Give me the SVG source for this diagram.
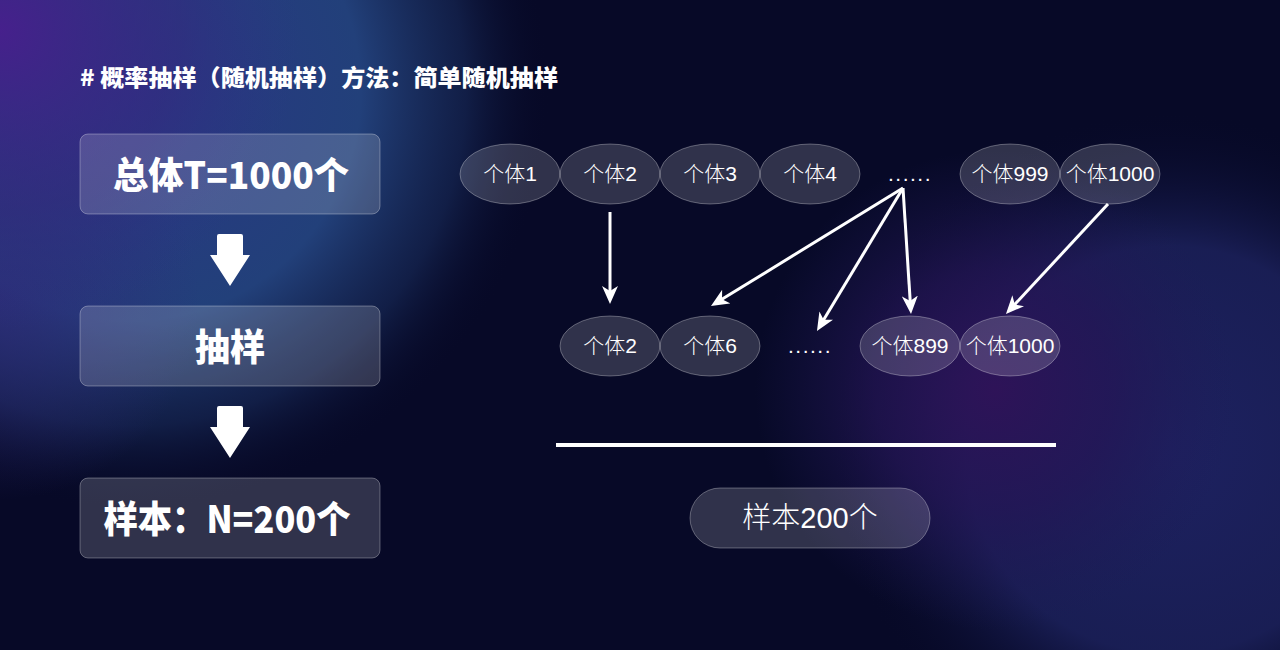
<svg xmlns="http://www.w3.org/2000/svg" width="1280" height="650" viewBox="0 0 1280 650">
  <defs>
    <radialGradient id="gLeft" gradientUnits="userSpaceOnUse" cx="130" cy="90" r="420">
      <stop offset="0" stop-color="#2a3584"/>
      <stop offset="0.55" stop-color="#22407a"/>
      <stop offset="0.8" stop-color="#1c3366" stop-opacity="0.5"/>
      <stop offset="1" stop-color="#070927" stop-opacity="0"/>
    </radialGradient>
    <radialGradient id="gPurpleTL" gradientUnits="userSpaceOnUse" cx="0" cy="30" r="300">
      <stop offset="0" stop-color="#46208c"/>
      <stop offset="0.6" stop-color="#35287f" stop-opacity="0.5"/>
      <stop offset="1" stop-color="#2a3584" stop-opacity="0"/>
    </radialGradient>
    <radialGradient id="gPurpleLeft" gradientUnits="userSpaceOnUse" cx="0" cy="300" r="200">
      <stop offset="0" stop-color="#2e2a78" stop-opacity="0.8"/>
      <stop offset="1" stop-color="#2e2a78" stop-opacity="0"/>
    </radialGradient>
    <radialGradient id="gPurpleR" gradientUnits="userSpaceOnUse" cx="995" cy="390" r="240">
      <stop offset="0" stop-color="#2e1358"/>
      <stop offset="0.5" stop-color="#251556" stop-opacity="0.7"/>
      <stop offset="1" stop-color="#1e1a55" stop-opacity="0"/>
    </radialGradient>
    <radialGradient id="gBlueR" gradientUnits="userSpaceOnUse" cx="1170" cy="450" r="340">
      <stop offset="0" stop-color="#1d2160"/>
      <stop offset="0.6" stop-color="#1b2059" stop-opacity="0.9"/>
      <stop offset="1" stop-color="#070927" stop-opacity="0"/>
    </radialGradient>
    <marker id="arrow" markerUnits="userSpaceOnUse" markerWidth="18" markerHeight="16" viewBox="0 0 18 16" refX="10" refY="8" orient="auto">
      <path d="M0,0 L18,8 L0,16 L5,8 z" fill="#ffffff"/>
    </marker>
  </defs>
  <style>
    .box { fill: rgba(255,255,255,0.17); stroke: rgba(255,255,255,0.3); stroke-width: 1; }
    .ell { fill: rgba(255,255,255,0.17); stroke: rgba(255,255,255,0.3); stroke-width: 1; }
    .big { font-family: "Noto Sans CJK SC", "Noto Sans", sans-serif; font-weight: 900; fill: #ffffff; text-anchor: middle; }
    .lbl { font-family: "Liberation Sans", "Noto Sans CJK SC", sans-serif; font-weight: 300; font-size: 21px; fill: #ffffff; text-anchor: middle; }
    .pill { font-family: "Liberation Sans", "Noto Sans CJK SC", sans-serif; font-weight: 300; font-size: 29px; fill: #ffffff; text-anchor: middle; }
    .conn { stroke: #ffffff; stroke-width: 3; fill: none; marker-end: url(#arrow); }
    .blk { fill: #ffffff; }
  </style>

  <!-- background -->
  <rect x="0" y="0" width="1280" height="650" fill="#070927"/>
  <rect x="0" y="0" width="1280" height="650" fill="url(#gBlueR)"/>
  <rect x="0" y="0" width="1280" height="650" fill="url(#gPurpleR)"/>
  <rect x="0" y="0" width="1280" height="650" fill="url(#gLeft)"/>
  <rect x="0" y="0" width="1280" height="650" fill="url(#gPurpleLeft)"/>
  <rect x="0" y="0" width="1280" height="650" fill="url(#gPurpleTL)"/>

  <!-- title -->
  <text x="80" y="86" font-family="Noto Sans CJK SC, Noto Sans, sans-serif" font-weight="900" font-size="23" fill="#ffffff" textLength="478" lengthAdjust="spacingAndGlyphs"># 概率抽样（随机抽样）方法：简单随机抽样</text>

  <!-- left flow -->
  <g id="population">
    <rect class="box" x="80" y="134" width="300" height="80" rx="8"/>
    <text class="big" x="231" y="189" font-size="37" textLength="236" lengthAdjust="spacingAndGlyphs">总体T=1000个</text>
  </g>
  <g id="arrow-block-1">
    <path class="blk" d="M219,234 h22 a2,2 0 0 1 2,2 v19 h7 L230,286 L210,255 h7 v-19 a2,2 0 0 1 2,-2 z"/>
  </g>
  <g id="sampling">
    <rect class="box" x="80" y="306" width="300" height="80" rx="8"/>
    <text class="big" x="230" y="361" font-size="37" textLength="70" lengthAdjust="spacingAndGlyphs">抽样</text>
  </g>
  <g id="arrow-block-2">
    <path class="blk" d="M219,406 h22 a2,2 0 0 1 2,2 v19 h7 L230,458 L210,427 h7 v-19 a2,2 0 0 1 2,-2 z"/>
  </g>
  <g id="sample">
    <rect class="box" x="80" y="478" width="300" height="80" rx="8"/>
    <text class="big" x="227" y="533" font-size="37" textLength="247" lengthAdjust="spacingAndGlyphs">样本：N=200个</text>
  </g>

  <!-- top row -->
  <g id="p1"><ellipse class="ell" cx="510" cy="174" rx="50" ry="30"/><text class="lbl" x="510" y="181">个体1</text></g>
  <g id="p2"><ellipse class="ell" cx="610" cy="174" rx="50" ry="30"/><text class="lbl" x="610" y="181">个体2</text></g>
  <g id="p3"><ellipse class="ell" cx="710" cy="174" rx="50" ry="30"/><text class="lbl" x="710" y="181">个体3</text></g>
  <g id="p4"><ellipse class="ell" cx="810" cy="174" rx="50" ry="30"/><text class="lbl" x="810" y="181">个体4</text></g>
  <g id="pdots"><text class="lbl" x="910" y="181" letter-spacing="1.5">......</text></g>
  <g id="p999"><ellipse class="ell" cx="1010" cy="174" rx="50" ry="30"/><text class="lbl" x="1010" y="181">个体999</text></g>
  <g id="p1000"><ellipse class="ell" cx="1110" cy="174" rx="50" ry="30"/><text class="lbl" x="1110" y="181">个体1000</text></g>

  <!-- bottom row -->
  <g id="s2"><ellipse class="ell" cx="610" cy="346" rx="50" ry="30"/><text class="lbl" x="610" y="353">个体2</text></g>
  <g id="s6"><ellipse class="ell" cx="710" cy="346" rx="50" ry="30"/><text class="lbl" x="710" y="353">个体6</text></g>
  <g id="sdots"><text class="lbl" x="810" y="353" letter-spacing="1.5">......</text></g>
  <g id="s899"><ellipse class="ell" cx="910" cy="346" rx="50" ry="30"/><text class="lbl" x="910" y="353">个体899</text></g>
  <g id="s1000"><ellipse class="ell" cx="1010" cy="346" rx="50" ry="30"/><text class="lbl" x="1010" y="353">个体1000</text></g>

  <!-- connectors -->
  <g id="connectors">
    <line class="conn" x1="610" y1="212" x2="610" y2="296"/>
    <line class="conn" x1="903" y1="188" x2="717.8" y2="301.8"/>
    <line class="conn" x1="903" y1="188" x2="821.1" y2="324.1"/>
    <line class="conn" x1="903" y1="188" x2="910.5" y2="306"/>
    <line class="conn" x1="1108" y1="204" x2="1011.4" y2="308.1"/>
  </g>

  <!-- divider -->
  <line x1="556" y1="445" x2="1056" y2="445" stroke="#ffffff" stroke-width="4"/>

  <!-- result pill -->
  <g id="result">
    <rect class="box" x="690" y="488" width="240" height="60" rx="30"/>
    <text class="pill" x="810" y="528">样本200个</text>
  </g>
</svg>
